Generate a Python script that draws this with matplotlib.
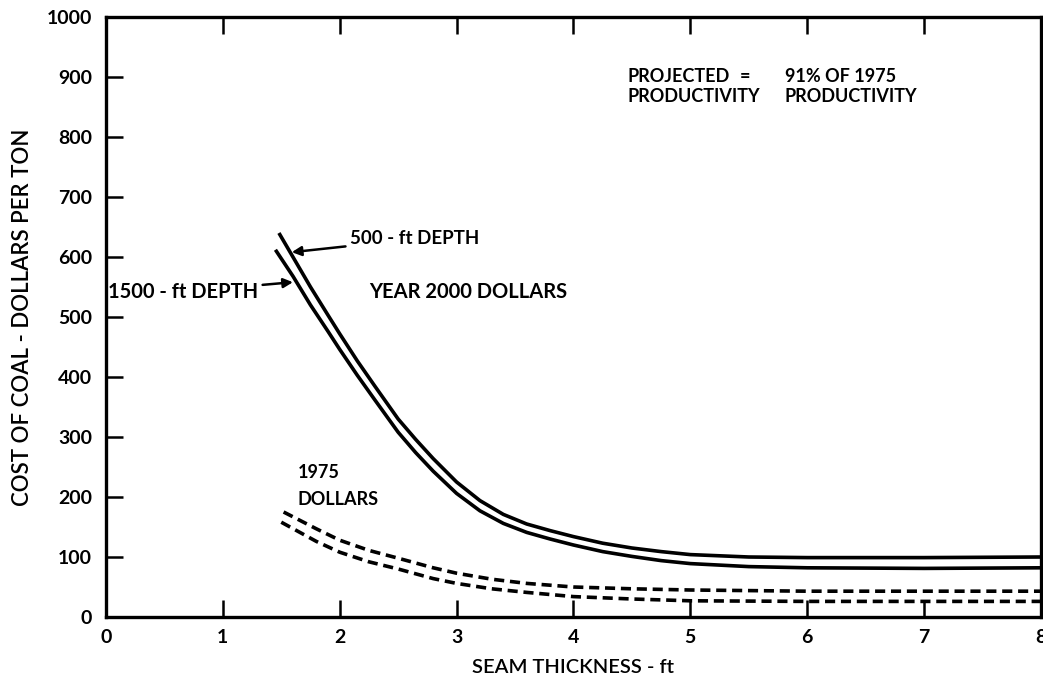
import matplotlib.pyplot as plt
from matplotlib.ticker import MultipleLocator

# seam thickness (ft) vs cost of coal ($/ton), year 2000 dollars
x_500 = [1.48, 1.6, 1.75, 1.9, 2.0, 2.15, 2.3, 2.5, 2.65, 2.8, 3.0, 3.2, 3.4, 3.6,
         3.8, 4.0, 4.25, 4.5, 4.75, 5.0, 5.5, 6.0, 7.0, 8.0]
y_500 = [640, 600, 550, 503, 472, 427, 385, 330, 296, 264, 225, 194, 171, 155,
         144, 134, 123, 115, 109, 104, 100, 99, 99, 100]

x_1500 = [1.45, 1.6, 1.75, 1.9, 2.0, 2.15, 2.3, 2.5, 2.65, 2.8, 3.0, 3.2, 3.4, 3.6,
          3.8, 4.0, 4.25, 4.5, 4.75, 5.0, 5.5, 6.0, 7.0, 8.0]
y_1500 = [612, 568, 520, 476, 446, 403, 362, 308, 274, 243, 206, 177, 156, 141,
          130, 120, 109, 101, 94, 89, 84, 82, 81, 82]

# 1975 dollars
x_1975a = [1.52, 1.65, 1.8, 2.0, 2.25, 2.5, 2.8, 3.0, 3.3, 3.6, 4.0, 4.5, 5.0, 6.0, 7.0, 8.0]
y_1975a = [175, 162, 147, 128, 111, 98, 82, 73, 63, 56, 50, 47, 45, 43, 43, 43]

x_1975b = [1.5, 1.65, 1.8, 2.0, 2.25, 2.5, 2.8, 3.0, 3.3, 3.6, 4.0, 4.5, 5.0, 6.0, 7.0, 8.0]
y_1975b = [158, 142, 126, 108, 92, 80, 64, 56, 47, 41, 34, 30, 27, 26, 26, 26]

plt.rcParams['font.family'] = ['Lato', 'DejaVu Sans']

fig = plt.figure(figsize=(10.43, 6.88), dpi=100)
ax = fig.add_axes([0.1016, 0.1032, 0.8964, 0.8721])

ax.plot(x_500, y_500, color='black', lw=2.6, solid_capstyle='butt')
ax.plot(x_1500, y_1500, color='black', lw=2.6, solid_capstyle='butt')
ax.plot(x_1975a, y_1975a, color='black', lw=2.6, ls=(0, (2.8, 1.6)))
ax.plot(x_1975b, y_1975b, color='black', lw=2.6, ls=(0, (2.8, 1.6)))

ax.set_xlim(0, 8)
ax.set_ylim(0, 1000)
ax.xaxis.set_major_locator(MultipleLocator(1))
ax.yaxis.set_major_locator(MultipleLocator(100))
ax.tick_params(direction='in', length=12, width=1.8, top=True, right=False,
               labelsize=14)
ax.tick_params(axis='y', pad=10)
ax.tick_params(axis='x', pad=9)
for lbl in ax.get_xticklabels() + ax.get_yticklabels():
    lbl.set_fontweight('bold')
for s in ax.spines.values():
    s.set_linewidth(2.4)

ax.set_xlabel('SEAM THICKNESS - ft', fontsize=14.5, fontweight='semibold', labelpad=9)
ax.set_ylabel('COST OF COAL - DOLLARS PER TON', fontsize=16, fontweight='semibold', labelpad=10)

tk = dict(fontsize=13, fontweight='bold', va='center')
ax.text(4.46, 900, 'PROJECTED', ha='left', **tk)
ax.text(4.46, 867, 'PRODUCTIVITY', ha='left', **tk)
ax.text(5.47, 900, '=', ha='center', **tk)
ax.text(5.81, 900, '91% OF 1975', ha='left', **tk)
ax.text(5.81, 867, 'PRODUCTIVITY', ha='left', **tk)
ax.text(2.25, 542, 'YEAR 2000 DOLLARS', ha='left', fontsize=14.5,
        fontweight='bold', va='center')
ax.text(1.64, 240, '1975', ha='left', **tk)
ax.text(1.64, 195, 'DOLLARS', ha='left', **tk)

arrow = dict(arrowstyle='-|>', color='black', lw=1.8, mutation_scale=14,
             shrinkA=1, shrinkB=0)
ax.annotate('500 - ft DEPTH', xy=(1.59, 608), xytext=(2.085, 630), ha='left',
            arrowprops=arrow, fontsize=13.5, fontweight='bold', va='center')
ax.annotate('1500 - ft DEPTH', xy=(1.60, 558), xytext=(0.02, 542), ha='left',
            arrowprops=arrow, fontsize=14.5, fontweight='bold', va='center')

fig.savefig('out.png', dpi=100)
